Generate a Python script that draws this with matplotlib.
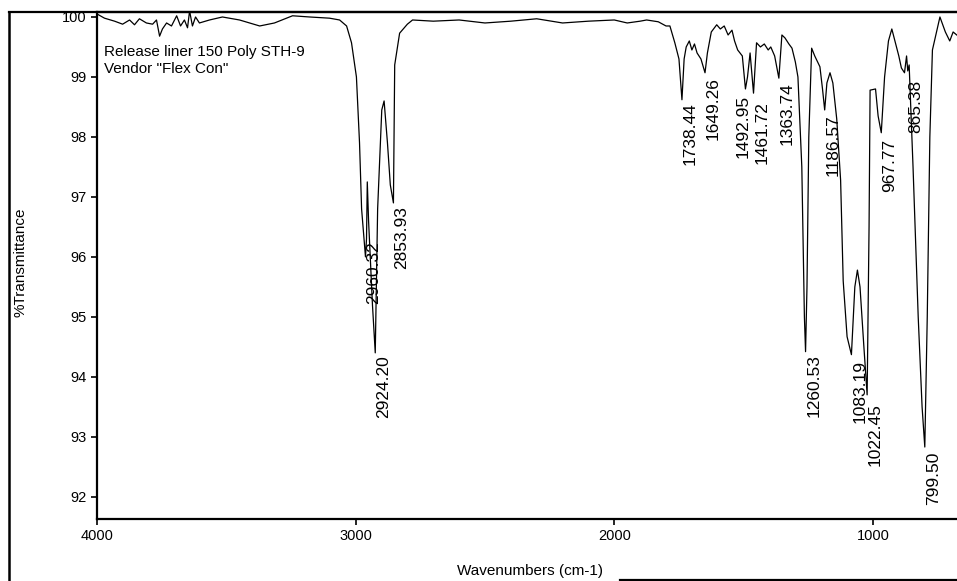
import matplotlib
matplotlib.use('Agg')
import matplotlib.pyplot as plt
from matplotlib.lines import Line2D

plt.rcParams['font.family'] = ['Liberation Sans', 'DejaVu Sans']

# spectrum (wavenumber, %T)
wavenumber = [
    4000, 3971, 3932, 3901, 3874, 3855, 3836, 3809, 3785, 3770,
    3758, 3747, 3731, 3712, 3692, 3677, 3662, 3650, 3642, 3631,
    3619, 3604, 3565, 3515, 3449, 3371, 3314, 3244, 3178, 3101,
    3062, 3035, 3016, 2997, 2985, 2977, 2962, 2958, 2955, 2950,
    2935, 2924.2, 2915, 2899, 2890, 2877, 2866, 2853.93, 2849, 2830,
    2800, 2780, 2700, 2600, 2500, 2400, 2300, 2200, 2100, 2000,
    1950, 1900, 1875, 1830, 1800, 1785, 1766, 1750, 1738.44, 1730,
    1722, 1710, 1700, 1690, 1680, 1665, 1649.26, 1640, 1625, 1604,
    1590, 1575, 1560, 1545, 1535, 1523, 1505, 1492.95, 1485, 1475,
    1461.72, 1450, 1435, 1420, 1405, 1395, 1380, 1363.74, 1352, 1340,
    1325, 1313, 1300, 1290, 1275, 1265, 1260.53, 1255, 1248, 1237,
    1225, 1205, 1195, 1186.57, 1178, 1166, 1155, 1140, 1125, 1115,
    1100, 1083.19, 1070, 1060, 1050, 1035, 1022.45, 1015, 1011, 990,
    980, 967.77, 955, 940, 927, 915, 900, 890, 878, 870,
    865.38, 860, 845, 825, 810, 799.5, 790, 780, 770, 741,
    720, 703, 690, 676,
]
transmittance = [
    100.05, 99.98, 99.93, 99.88, 99.95, 99.87, 99.97, 99.9, 99.88, 99.95,
    99.68, 99.8, 99.9, 99.85, 100.02, 99.85, 99.95, 99.82, 100.1, 99.85,
    100.0, 99.9, 99.95, 100.0, 99.95, 99.85, 99.9, 100.02, 100.0, 99.98,
    99.95, 99.85, 99.57, 99.0, 97.9, 96.8, 96.0, 96.3, 97.25, 96.6,
    95.2, 94.4, 96.8, 98.45, 98.6, 97.9, 97.2, 96.9, 99.2, 99.73,
    99.88, 99.95, 99.93, 99.95, 99.9, 99.93, 99.97, 99.9, 99.93, 99.95,
    99.9, 99.93, 99.95, 99.92, 99.85, 99.85, 99.57, 99.3, 98.62, 99.3,
    99.5, 99.6, 99.45, 99.55, 99.4, 99.3, 99.07, 99.4, 99.75, 99.87,
    99.8, 99.85, 99.7, 99.78, 99.6, 99.45, 99.35, 98.8, 99.0, 99.4,
    98.73, 99.57, 99.5, 99.55, 99.45, 99.5, 99.35, 98.98, 99.7, 99.65,
    99.55, 99.48, 99.25, 99.0, 97.5, 95.0, 94.42, 95.5, 98.0, 99.48,
    99.35, 99.17, 98.8, 98.45, 98.9, 99.07, 98.9, 98.3, 97.28, 95.6,
    94.67, 94.37, 95.5, 95.78, 95.5, 94.5, 93.7, 96.5, 98.78, 98.8,
    98.35, 98.07, 99.0, 99.6, 99.8, 99.6, 99.35, 99.15, 99.07, 99.35,
    99.1, 99.2, 97.5, 95.0, 93.5, 92.83, 95.0, 98.0, 99.45, 100.0,
    99.75, 99.6, 99.75, 99.7,
]

peak_labels = ['2960.32', '2924.20', '2853.93', '1738.44', '1649.26', '1492.95',
               '1461.72', '1363.74', '1260.53', '1186.57', '1083.19', '1022.45',
               '967.77', '865.38', '799.50']
peak_wn = [2962, 2924.2, 2853.93, 1738.44, 1649.26, 1492.95,
           1461.72, 1363.74, 1260.53, 1186.57, 1083.19, 1022.45,
           967.77, 865.38, 799.5]
peak_T = [96.3, 94.4, 96.9, 98.62, 99.05, 98.75,
          98.65, 98.95, 94.42, 98.42, 94.33, 93.6,
          98.02, 99.0, 92.8]

fig = plt.figure(figsize=(9.57, 5.81), dpi=100)
ax = fig.add_axes([97 / 957, 62 / 581, 1 - 97 / 957, 507 / 581])

ax.plot(wavenumber, transmittance, color='black', lw=0.9)

for lab, w, t in zip(peak_labels, peak_wn, peak_T):
    dx = 6
    if lab == '1492.95':
        dx = -2   # printed label sits left of its peak
    ax.annotate(lab, (w, t), xytext=(dx, -2), textcoords='offset points',
                rotation=90, ha='center', va='top', fontsize=12.5)

ax.text(0.008, 0.935, 'Release liner 150 Poly STH-9\nVendor "Flex Con"',
        transform=ax.transAxes, ha='left', va='top', fontsize=11,
        linespacing=1.25)

ax.set_xlim(4000, 675)
ax.set_ylim(91.63, 100.083)
ax.set_xticks([4000, 3000, 2000, 1000])
ax.set_yticks([92, 93, 94, 95, 96, 97, 98, 99, 100])
ax.tick_params(direction='out', length=4, width=1.2, labelsize=10.5)
ax.spines['right'].set_visible(False)
for s in ['left', 'bottom', 'top']:
    ax.spines[s].set_linewidth(1.6)

fig.text(530 / 957, 1 - 571 / 581, 'Wavenumbers (cm-1)', ha='center',
         va='center', fontsize=11)
fig.text(21 / 957, 1 - 262 / 581, '%Transmittance', rotation=90,
         ha='center', va='center', fontsize=11)

# outer frame of the printout
fig.add_artist(Line2D([9 / 957, 9 / 957], [0, 1 - 12 / 581], color='black', lw=1.8))
fig.add_artist(Line2D([9 / 957, 1], [1 - 12 / 581, 1 - 12 / 581], color='black', lw=1.6))
fig.add_artist(Line2D([620 / 957, 1], [1 / 581, 1 / 581], color='black', lw=1.6))

fig.savefig('out.png', dpi=100)
